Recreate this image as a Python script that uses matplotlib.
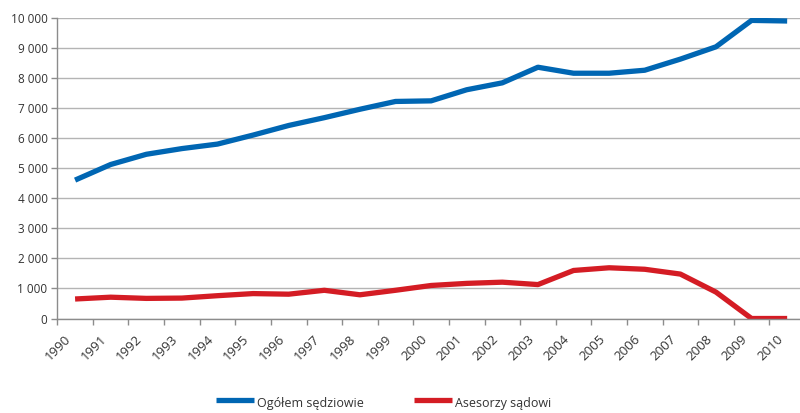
import matplotlib.pyplot as plt
import matplotlib.transforms as mtransforms
import numpy as np
from matplotlib.ticker import FuncFormatter

years = list(range(1990, 2011))
sedziowie = [4610, 5130, 5470, 5660, 5810, 6110, 6430, 6690, 6970, 7230, 7250,
             7620, 7850, 8370, 8170, 8170, 8270, 8640, 9050, 9930, 9910]
asesorzy = [650, 710, 670, 680, 760, 830, 810, 940, 790, 940, 1100,
            1170, 1210, 1130, 1600, 1690, 1640, 1480, 880, 0, 0]

plt.rcParams['font.family'] = ['Open Sans', 'DejaVu Sans']

fig = plt.figure(figsize=(8, 4.13), dpi=100)
ax = fig.add_axes([0.0716, 0.2288, 1.0062 - 0.0716, 0.9557 - 0.2288])

# punkty w srodku przedzialow kategorii, jak w wykresie Excela
x = np.array(years) + 0.5
ax.plot(x, sedziowie, color='#0066b3', lw=3.8, solid_capstyle='butt', label='Ogółem sędziowie')
ax.plot(x, asesorzy, color='#d41c24', lw=3.8, solid_capstyle='butt', label='Asesorzy sądowi')

ax.set_xlim(1990, 2011)
ax.set_ylim(0, 10000)
ax.set_yticks(range(0, 10001, 1000))
ax.yaxis.set_major_formatter(FuncFormatter(lambda v, p: f'{int(v):,}'.replace(',', ' ')))
ax.set_xticks(years)
ax.set_xticklabels([str(y) for y in years])

ax.grid(axis='y', color='#b4b4b4', lw=1)
ax.set_axisbelow(True)
for s in ['top', 'right']:
    ax.spines[s].set_visible(False)
for s in ['left', 'bottom']:
    ax.spines[s].set_color('#8c8c8c')
    ax.spines[s].set_linewidth(1)

ax.tick_params(axis='both', colors='#8c8c8c', length=4, width=1, labelcolor='#333333', labelsize=8.5)
ax.tick_params(axis='y', pad=3)
ax.tick_params(axis='x', pad=6, labelsize=9.5)

offset = mtransforms.ScaledTranslation(7 / 100, 0, fig.dpi_scale_trans)
for lab in ax.get_xticklabels():
    lab.set_rotation(45)
    lab.set_ha('right')
    lab.set_va('top')
    lab.set_rotation_mode('anchor')
    lab.set_transform(lab.get_transform() + offset)

# legenda na samym dole rysunku
ax.legend(loc='center left', bbox_to_anchor=(216 / 800, 1 - 403 / 413), bbox_transform=fig.transFigure,
          ncol=2, frameon=False, fontsize=9, handlelength=3.0, handleheight=2.1, handletextpad=0.3,
          columnspacing=4.0, borderaxespad=0, borderpad=0, labelcolor='#333333')

fig.savefig('out.png', dpi=100)
